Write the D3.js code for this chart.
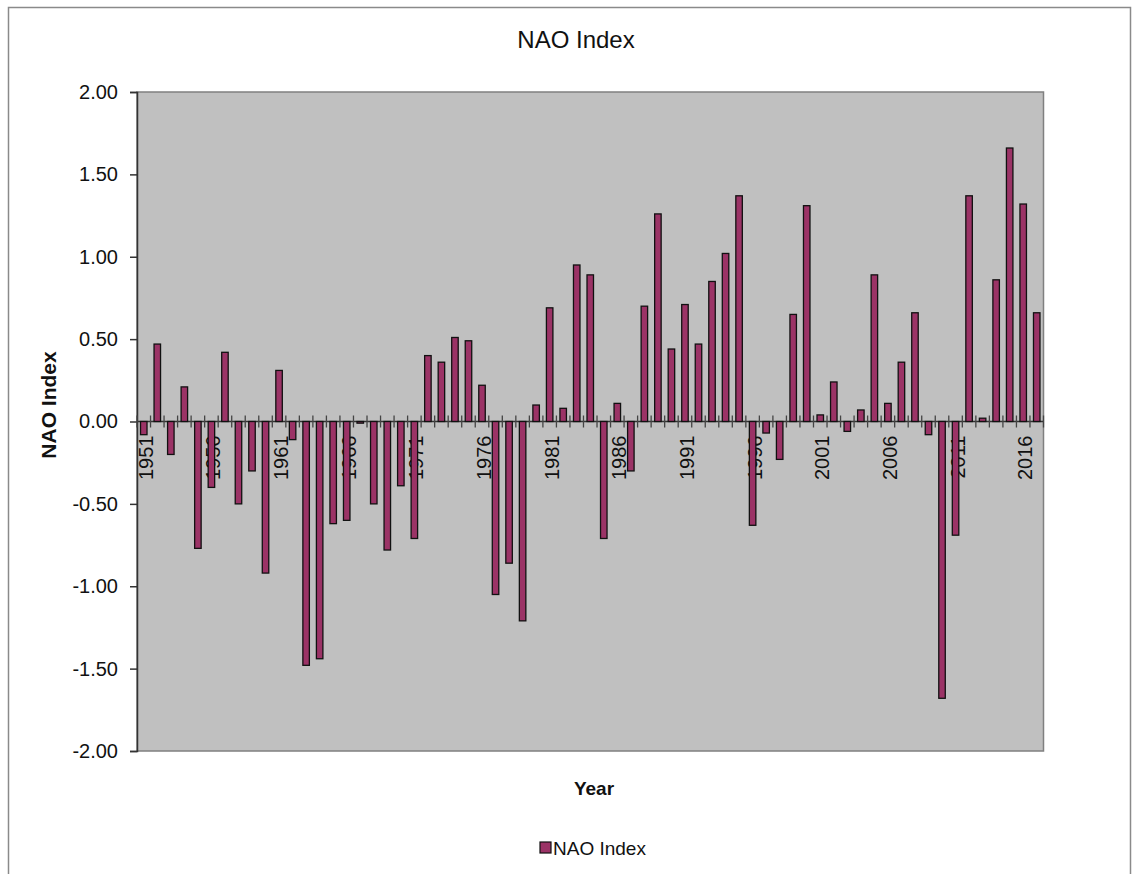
<!DOCTYPE html>
<html>
<head>
<meta charset="utf-8">
<script src="https://cdn.jsdelivr.net/npm/d3@7/dist/d3.min.js"></script>
<style>
  html, body { margin: 0; padding: 0; background: #ffffff; }
  svg { display: block; font-family: "Liberation Sans", Arial, sans-serif; }
</style>
</head>
<body>
<svg id="chart" width="1133" height="874"></svg>
<script>
// Winter NAO index, one value per year
const years = d3.range(1951, 2018);
const naoValues = [
  -0.08, 0.47, -0.20, 0.21, -0.77, -0.40, 0.42, -0.50, -0.30, -0.92,
   0.31, -0.11, -1.48, -1.44, -0.62, -0.60, -0.01, -0.50, -0.78, -0.39,
  -0.71, 0.40, 0.36, 0.51, 0.49, 0.22, -1.05, -0.86, -1.21, 0.10,
   0.69, 0.08, 0.95, 0.89, -0.71, 0.11, -0.30, 0.70, 1.26, 0.44,
   0.71, 0.47, 0.85, 1.02, 1.37, -0.63, -0.07, -0.23, 0.65, 1.31,
   0.04, 0.24, -0.06, 0.07, 0.89, 0.11, 0.36, 0.66, -0.08, -1.68,
  -0.69, 1.37, 0.02, 0.86, 1.66, 1.32, 0.66
];
const yTickValues = [2, 1.5, 1, 0.5, 0, -0.5, -1, -1.5, -2];
const xLabelYears = [1951, 1956, 1961, 1966, 1971, 1976, 1981, 1986, 1991, 1996, 2001, 2006, 2011, 2016];

const titleText = "NAO Index";
const xTitle = "Year";
const yTitle = "NAO Index";
const seriesName = "NAO Index";

const barFill = "#9b3366";
const plotFill = "#c0c0c0";

const svg = d3.select("#chart");

// outer chart frame
svg.append("rect")
  .attr("x", 8.5).attr("y", 7.5)
  .attr("width", 1122).attr("height", 900)
  .attr("fill", "#ffffff")
  .attr("stroke", "#8a8a8a").attr("stroke-width", 1.5);

const plot = { left: 137, right: 1043.5, top: 92, bottom: 751 };

const x = d3.scaleBand()
  .domain(years)
  .range([plot.left, plot.right])
  .paddingInner(0.52)
  .paddingOuter(0.26);

const y = d3.scaleLinear()
  .domain([-2, 2])
  .range([plot.bottom, plot.top]);

// plot area
svg.append("rect")
  .attr("x", plot.left).attr("y", plot.top)
  .attr("width", plot.right - plot.left).attr("height", plot.bottom - plot.top)
  .attr("fill", plotFill)
  .attr("stroke", "#808080").attr("stroke-width", 1.5);

// y axis, plain hyphen for negatives
const fmt2 = d => d.toFixed(2);
const yAxis = d3.axisLeft(y)
  .tickValues(yTickValues)
  .tickFormat(fmt2)
  .tickSize(7)
  .tickPadding(12);

const yg = svg.append("g")
  .attr("transform", `translate(${plot.left},0)`)
  .call(yAxis);
yg.select(".domain").attr("stroke", "#333333").attr("stroke-width", 1.5);
yg.selectAll(".tick line").attr("stroke", "#333333").attr("stroke-width", 1.5);
yg.selectAll(".tick text")
  .attr("font-size", 20)
  .attr("fill", "#111111")
  .attr("font-family", "'Liberation Sans', Arial, sans-serif");

// x category labels (drawn beneath the bars)
const zeroY = y(0);
svg.append("g")
  .selectAll("text")
  .data(xLabelYears)
  .join("text")
  .attr("transform", d => `translate(${x(d) + x.bandwidth() / 2 + 2},${zeroY + 14}) rotate(-90)`)
  .attr("text-anchor", "end")
  .attr("dy", "0.35em")
  .attr("font-size", 20)
  .attr("fill", "#111111")
  .text(d => d);

// x axis along zero, with ticks crossing between categories
svg.append("line")
  .attr("x1", plot.left).attr("x2", plot.right)
  .attr("y1", zeroY).attr("y2", zeroY)
  .attr("stroke", "#333333").attr("stroke-width", 1.5);

const boundaries = years.map(d => x(d) - x.step() * x.paddingInner() / 2).concat([plot.right]);
svg.append("g")
  .selectAll("line")
  .data(boundaries)
  .join("line")
  .attr("x1", d => d).attr("x2", d => d)
  .attr("y1", zeroY - 6).attr("y2", zeroY + 6)
  .attr("stroke", "#444444").attr("stroke-width", 1.3);

// bars
svg.append("g")
  .selectAll("rect")
  .data(years.map((yr, i) => ({ yr, v: naoValues[i] })))
  .join("rect")
  .attr("x", d => x(d.yr))
  .attr("width", x.bandwidth())
  .attr("y", d => y(Math.max(0, d.v)))
  .attr("height", d => Math.max(1, Math.abs(y(d.v) - y(0))))
  .attr("fill", barFill)
  .attr("stroke", "#111111")
  .attr("stroke-width", 1.3);

// titles
svg.append("text")
  .attr("x", 576).attr("y", 48)
  .attr("text-anchor", "middle")
  .attr("font-size", 24)
  .attr("fill", "#111111")
  .text(titleText);

svg.append("text")
  .attr("x", 594).attr("y", 795)
  .attr("text-anchor", "middle")
  .attr("font-size", 19)
  .attr("font-weight", "bold")
  .attr("fill", "#111111")
  .text(xTitle);

svg.append("text")
  .attr("transform", "translate(56,405) rotate(-90)")
  .attr("text-anchor", "middle")
  .attr("font-size", 21)
  .attr("font-weight", "bold")
  .attr("fill", "#111111")
  .text(yTitle);

// legend
const legend = svg.append("g").attr("transform", "translate(540,842)");
legend.append("rect")
  .attr("width", 11).attr("height", 11)
  .attr("fill", barFill)
  .attr("stroke", "#111111").attr("stroke-width", 1.2);
legend.append("text")
  .attr("x", 13).attr("y", 6)
  .attr("dy", "0.35em")
  .attr("font-size", 19)
  .attr("fill", "#111111")
  .text(seriesName);
</script>
</body>
</html>
